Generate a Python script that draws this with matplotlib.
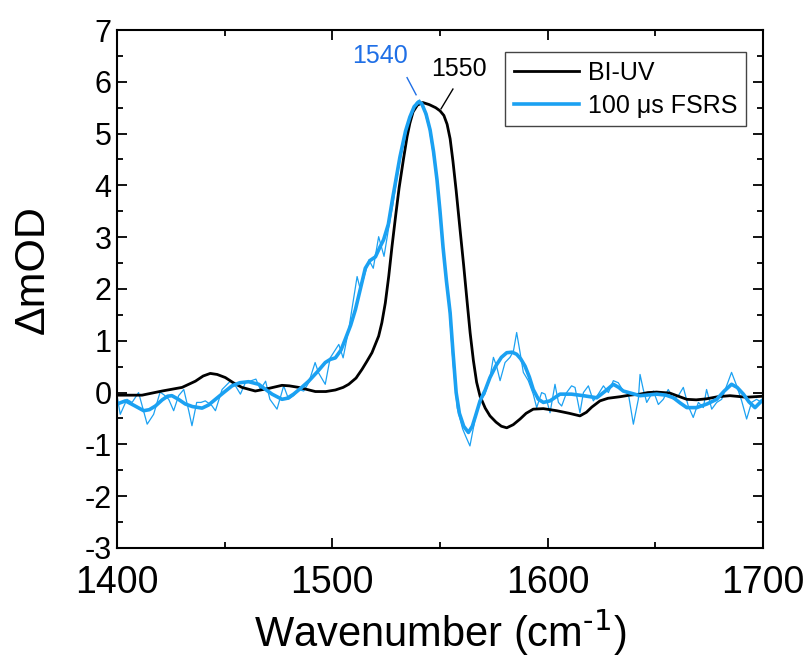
import matplotlib
matplotlib.use('Agg')
import matplotlib.pyplot as plt
from matplotlib.ticker import MultipleLocator

plt.rcParams['font.family'] = ['Liberation Sans', 'DejaVu Sans']
plt.rcParams['axes.unicode_minus'] = False
plt.rcParams['mathtext.default'] = 'regular'

# BI-UV spectrum (smooth, black)
biuv_w = [1400, 1411.6, 1420.9, 1430.2, 1436.4, 1440, 1443.3, 1446.5, 1450.3, 1454,
          1458, 1464.2, 1470.4, 1476.6, 1480, 1484.4, 1492.1, 1497, 1501.4, 1505,
          1507.6, 1511, 1513.8, 1516, 1518.4, 1521.5, 1523, 1524.6, 1526.2, 1527.7,
          1529.5, 1531, 1533, 1534.7, 1536, 1537.5, 1539.5, 1542, 1545, 1548,
          1550, 1551.8, 1553.3, 1554.7, 1556, 1557.5, 1559.3, 1561, 1562.6, 1564,
          1565.5, 1567, 1568.6, 1571, 1573.2, 1576, 1578.5, 1581, 1584, 1587.2,
          1590, 1593.3, 1598, 1604.2, 1610, 1615, 1618, 1620.5, 1624.3, 1628,
          1633.6, 1638, 1642.9, 1646.5, 1650.6, 1656.8, 1660, 1664.6, 1669, 1673.8,
          1679, 1684.7, 1692.4, 1696, 1700]
biuv_v = [-0.05, -0.05, 0.03, 0.10, 0.22, 0.32, 0.37, 0.35, 0.29, 0.19,
          0.10, 0.03, 0.08, 0.14, 0.13, 0.10, 0.02, 0.02, 0.05, 0.10,
          0.16, 0.28, 0.45, 0.60, 0.77, 1.09, 1.35, 1.73, 2.25, 2.82,
          3.45, 3.95, 4.5, 4.94, 5.2, 5.42, 5.55, 5.6, 5.56, 5.5,
          5.44, 5.35, 5.18, 4.9, 4.47, 3.9, 3.15, 2.45, 1.75, 1.15,
          0.62, 0.2, -0.07, -0.3, -0.45, -0.57, -0.65, -0.68, -0.62, -0.51,
          -0.40, -0.32, -0.31, -0.35, -0.40, -0.45, -0.38, -0.28, -0.16, -0.11,
          -0.08, -0.05, -0.03, 0.0, 0.01, -0.01, -0.06, -0.13, -0.14, -0.12,
          -0.08, -0.06, -0.09, -0.08, -0.07]

# 100 us FSRS, smoothed (thick blue)
fsrs_w = [1400, 1403.9, 1408, 1412.4, 1415, 1417.8, 1421, 1423.5, 1425.5, 1428.5,
          1431.7, 1435, 1439.5, 1442.5, 1445.7, 1449.5, 1453.4, 1457, 1461.1, 1465.8,
          1469, 1472, 1476.6, 1479, 1482, 1485.5, 1489, 1493, 1496.7, 1499,
          1501.4, 1504, 1506, 1508.5, 1510.7, 1513, 1515.3, 1517.5, 1520, 1522,
          1523.8, 1526, 1528, 1531.4, 1534, 1536, 1538, 1540, 1541.5, 1543.5,
          1545.4, 1547, 1548.6, 1550, 1551.4, 1553, 1554.7, 1556, 1557.5, 1559,
          1561, 1563.2, 1565, 1566.5, 1568.6, 1571, 1573.2, 1576, 1578.5, 1581,
          1583.5, 1585.6, 1587.5, 1589.5, 1591.5, 1593.3, 1595.7, 1598, 1601.1, 1605.7,
          1611, 1616.6, 1622.8, 1626.5, 1630.5, 1633, 1635.1, 1642.9, 1650.6, 1655,
          1658.4, 1661.5, 1664.6, 1669.2, 1674, 1678.5, 1682, 1685.4, 1688, 1690.9,
          1693.5, 1696.3, 1699.4, 1700]
fsrs_v = [-0.22, -0.16, -0.25, -0.35, -0.33, -0.26, -0.14, -0.07, -0.06, -0.13,
          -0.22, -0.27, -0.30, -0.24, -0.13, 0.0, 0.13, 0.19, 0.21, 0.16,
          0.06, -0.03, -0.13, -0.11, -0.03, 0.09, 0.22, 0.40, 0.58, 0.64,
          0.67, 0.82, 1.03, 1.30, 1.60, 2.0, 2.40, 2.55, 2.62, 2.8,
          2.95, 3.25, 3.75, 4.55, 5.05, 5.32, 5.52, 5.61, 5.58, 5.38,
          5.07, 4.65, 4.11, 3.5, 2.81, 2.15, 1.54, 0.8, 0.0, -0.4,
          -0.65, -0.77, -0.65, -0.45, -0.16, 0.05, 0.29, 0.52, 0.68, 0.77,
          0.78, 0.74, 0.65, 0.51, 0.30, 0.06, -0.13, -0.19, -0.16, -0.03,
          -0.03, -0.06, -0.10, 0.02, 0.16, 0.10, 0.03, -0.06, -0.03, -0.05,
          -0.10, -0.20, -0.29, -0.29, -0.22, -0.13, 0.03, 0.16, 0.10, -0.03,
          -0.18, -0.29, -0.16, -0.14]

# 100 us FSRS, raw (thin blue)
raw_w = [1400, 1401.5, 1404.6, 1407, 1410, 1414, 1417, 1420, 1422, 1424,
         1426.3, 1428.6, 1431, 1433.3, 1434.8, 1437, 1439, 1441, 1444, 1445.7,
         1448.8, 1452.6, 1455, 1457.3, 1459.6, 1463, 1464.5, 1466.6, 1469, 1471,
         1474.3, 1477.4, 1479.7, 1482, 1484.4, 1486.7, 1489, 1492, 1493.6, 1496.7,
         1499, 1503, 1505, 1507.6, 1511.5, 1513, 1517, 1519, 1521.5, 1524,
         1526, 1528, 1531, 1534, 1537, 1539, 1540.5, 1542, 1545, 1548,
         1551, 1554, 1556, 1558, 1560.5, 1562, 1563.9, 1566.3, 1568.6, 1570.9,
         1573.2, 1574.8, 1576.3, 1577.9, 1580.2, 1582.5, 1584.1, 1585.6, 1587.2, 1588.7,
         1591, 1593.3, 1594.9, 1597.2, 1598.8, 1601.1, 1603.4, 1605, 1606.5, 1608.8,
         1611.1, 1612.7, 1615, 1616.6, 1618.9, 1621.2, 1623.5, 1625.9, 1628.2, 1630.5,
         1632.8, 1635.1, 1637.5, 1639.8, 1642.1, 1642.9, 1644.4, 1646, 1649.1, 1651.4,
         1653.7, 1656, 1658.4, 1660.7, 1663, 1665.3, 1667.6, 1670, 1672.3, 1673.8,
         1676.2, 1678.5, 1680.8, 1683.1, 1685.4, 1687.8, 1690.1, 1692.4, 1694.7, 1697,
         1699.4, 1700]
raw_v = [-0.06, -0.42, -0.13, -0.19, 0.0, -0.61, -0.42, 0.01, -0.05, -0.13,
         -0.35, -0.06, 0.06, -0.35, -0.64, -0.19, -0.19, -0.16, -0.25, -0.35,
         0.06, 0.22, 0.13, -0.03, 0.19, 0.24, 0.26, 0.06, 0.22, -0.13,
         -0.32, 0.13, -0.13, -0.06, 0.06, 0.03, 0.19, 0.58, 0.38, 0.16,
         0.67, 0.93, 0.67, 1.22, 2.24, 1.99, 2.56, 2.4, 3.01, 2.63,
         3.14, 3.6, 4.4, 5.0, 5.4, 5.6, 5.65, 5.55, 5.1, 4.3,
         3.0, 1.8, 0.6, -0.3, -0.7, -0.85, -1.03, -0.51, -0.16, -0.03,
         0.29, 0.68, 0.51, 0.23, 0.58, 0.68, 0.80, 1.16, 0.77, 0.39,
         0.23, -0.03, -0.29, 0.0, -0.03, -0.39, 0.16, -0.19, -0.26, 0.0,
         0.13, 0.10, -0.39, 0.0, 0.13, -0.16, -0.03, 0.13, 0.0, 0.23,
         0.19, 0.03, -0.03, -0.61, -0.13, 0.35, 0.06, -0.19, 0.03, -0.23,
         -0.13, 0.06, -0.13, -0.06, 0.10, -0.26, -0.48, -0.19, -0.29, 0.06,
         -0.32, -0.19, -0.13, 0.13, 0.39, 0.13, -0.16, -0.51, -0.19, -0.13,
         -0.19, -0.2]

black = '#000000'
blue = '#1ba1f2'
label_blue = '#1f6fe6'

fig = plt.figure(figsize=(8.11, 6.61), dpi=100)
ax = fig.add_axes([0.1443, 0.171, 0.7965, 0.7836])

ax.plot(raw_w, raw_v, color=blue, lw=0.9)
ax.plot(biuv_w, biuv_v, color=black, lw=2.0, label='BI-UV')
ax.plot(fsrs_w, fsrs_v, color=blue, lw=2.6, label='100 \u03bcs FSRS')

# peak markers
ax.plot([1534.7, 1538.9], [6.08, 5.75], color=label_blue, lw=1.0)
ax.plot([1556, 1550.5], [5.86, 5.48], color=black, lw=1.0)
ax.text(1522, 6.5, '1540', color=label_blue, fontsize=18, ha='center', va='center')
ax.text(1559, 6.25, '1550', color=black, fontsize=18, ha='center', va='center')

ax.set_xlim(1400, 1700)
ax.set_ylim(-3, 7)
ax.xaxis.set_major_locator(MultipleLocator(100))
ax.xaxis.set_minor_locator(MultipleLocator(50))
ax.yaxis.set_major_locator(MultipleLocator(1))
ax.yaxis.set_minor_locator(MultipleLocator(0.5))
ax.tick_params(which='both', direction='in', top=True, right=True, width=1.3)
ax.tick_params(which='major', length=7)
ax.tick_params(which='minor', length=4)
ax.tick_params(axis='x', labelsize=27, pad=12)
ax.tick_params(axis='y', labelsize=22, pad=4)
for s in ax.spines.values():
    s.set_linewidth(1.5)

ax.set_xlabel('Wavenumber (cm$^{\\text{-1}}$)', fontsize=30, labelpad=5)
ax.set_ylabel('\u0394mOD', fontsize=31)
ax.yaxis.set_label_coords(-0.100, 0.537)

leg = ax.legend(loc='upper right', bbox_to_anchor=(0.974, 0.9575), borderaxespad=0,
                fontsize=18, handlelength=2.6, handletextpad=0.35, borderpad=0.35,
                labelspacing=0.35, fancybox=False, framealpha=1)
leg.get_frame().set_edgecolor('#444444')
leg.get_frame().set_linewidth(1.0)

fig.savefig('out.png', dpi=100)
